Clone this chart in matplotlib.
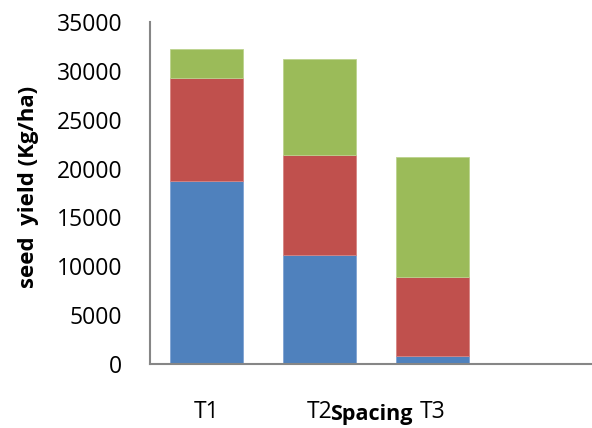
import matplotlib
matplotlib.use("Agg")
import matplotlib.pyplot as plt

# ---------------------- DATA ----------------------
categories = ["T1", "T2", "T3"]
blue_vals = [18700, 11150, 800]
red_vals = [10600, 10200, 8100]
green_vals = [2900, 9900, 12250]

# ---------------------- PLOT ----------------------
plt.rcParams['font.family'] = ['Open Sans', 'DejaVu Sans']

fig = plt.figure(figsize=(5.92, 4.28), dpi=100)
ax = fig.add_axes([0.2534, 0.1495, 0.7466, 0.7991])

x = list(range(len(categories)))
bottom_red = blue_vals
bottom_green = [b + r for b, r in zip(blue_vals, red_vals)]

w = 0.65
ax.bar(x, blue_vals, width=w, color='#4F81BD', edgecolor='#7FA3D3', linewidth=0.6)
ax.bar(x, red_vals, width=w, bottom=bottom_red, color='#C0504D', edgecolor='#D68583', linewidth=0.6)
ax.bar(x, green_vals, width=w, bottom=bottom_green, color='#9BBB59', edgecolor='#BCD38E', linewidth=0.6)

ax.set_xlim(-0.5, 3.41)
ax.set_ylim(0, 35000)
ax.set_yticks(range(0, 35001, 5000))
ax.set_xticks(x)
ax.set_xticklabels(categories)

for s in ['top', 'right']:
    ax.spines[s].set_visible(False)
for s in ['left', 'bottom']:
    ax.spines[s].set_color('#868686')
    ax.spines[s].set_linewidth(1.5)

ax.tick_params(axis='y', length=0, pad=20, labelsize=16.5)
ax.tick_params(axis='x', length=0, pad=26, labelsize=16.5)

ax.set_ylabel("seed  yield (Kg/ha)", fontsize=16, fontweight='bold', va='center', ha='center')
ax.yaxis.set_label_coords(-0.276, 0.518)
ax.set_xlabel("Spacing", fontsize=15.5, fontweight='bold', va='top')
ax.xaxis.set_label_coords(0.5, -0.118)

fig.savefig("out.png", dpi=100)
